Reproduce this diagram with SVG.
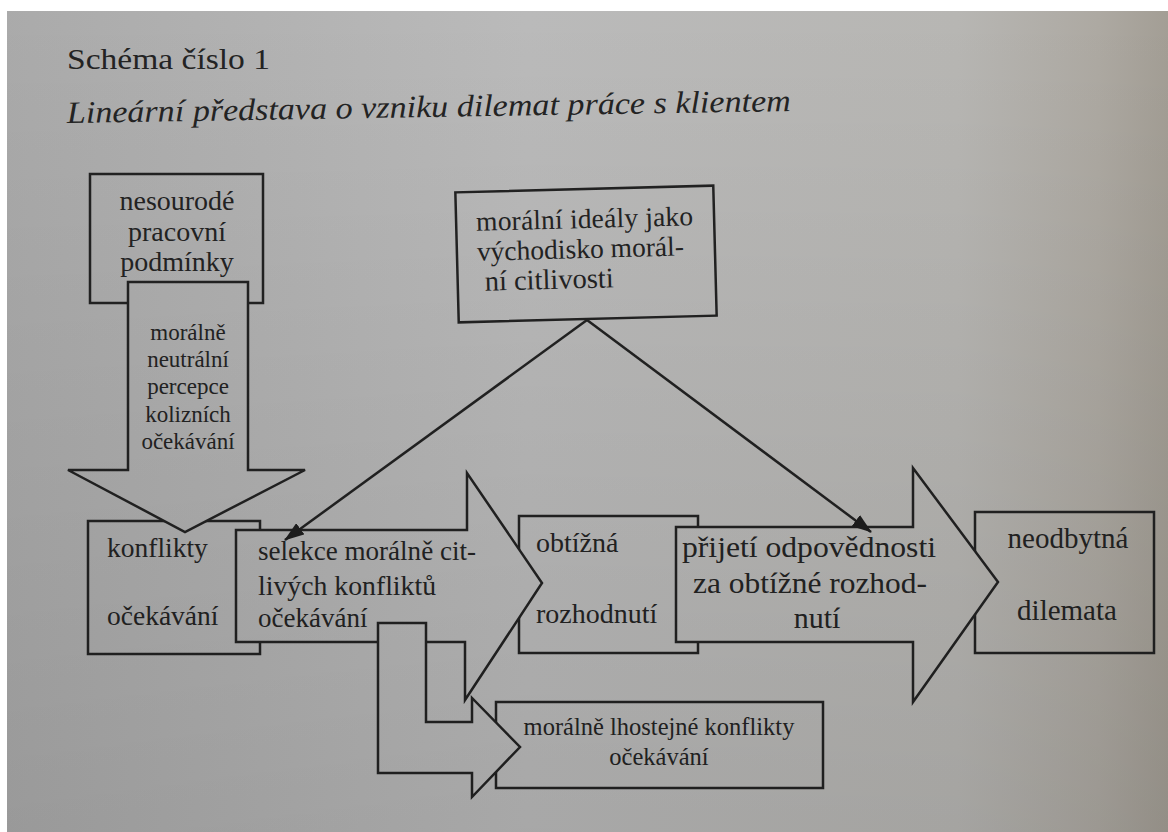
<svg xmlns="http://www.w3.org/2000/svg" width="1168" height="832" viewBox="0 0 1168 832">
<defs>
<linearGradient id="page" gradientUnits="userSpaceOnUse" x1="0" y1="0" x2="1168" y2="0">
<stop offset="0" stop-color="#aaaaaa"/>
<stop offset="0.45" stop-color="#bababa"/>
<stop offset="0.82" stop-color="#b7b6b3"/>
<stop offset="0.94" stop-color="#ada9a2"/>
<stop offset="1" stop-color="#a39e95"/>
</linearGradient>
<linearGradient id="shade" x1="0" y1="0" x2="0" y2="1">
<stop offset="0" stop-color="#000" stop-opacity="0"/>
<stop offset="1" stop-color="#000" stop-opacity="0.1"/>
</linearGradient>
<marker id="ah" markerUnits="userSpaceOnUse" markerWidth="20" markerHeight="14" viewBox="0 0 20 14" refX="19" refY="7" orient="auto">
<path d="M0,0 L20,7 L0,14 z" fill="#1e1e1e"/>
</marker>
<style>
.s{fill:url(#page);stroke:#222;stroke-width:2.5;stroke-linejoin:miter}
.t{font-family:"Liberation Serif","Times New Roman",serif;fill:#232323}
.c{text-anchor:middle}
.ln{fill:none;stroke:#222;stroke-width:2.5}
</style>
</defs>
<rect x="0" y="0" width="1168" height="832" fill="#ffffff"/>
<rect x="7" y="11" width="1161" height="821" fill="url(#page)"/>

<g id="title">
<text class="t" x="67" y="69" font-size="29" textLength="203" lengthAdjust="spacingAndGlyphs">Schéma číslo 1</text>
<text class="t" x="67" y="123" font-size="31" font-style="italic" textLength="724" lengthAdjust="spacingAndGlyphs" transform="rotate(-0.95 67 123)">Lineární představa o vzniku dilemat práce s klientem</text>
</g>

<g id="node-podminky">
<rect class="s" x="90" y="174" width="173" height="129"/>
<text class="t c" x="177" y="210" font-size="28">nesourodé</text>
<text class="t c" x="177" y="241" font-size="28">pracovní</text>
<text class="t c" x="177" y="271" font-size="28">podmínky</text>
</g>

<g id="node-konflikty">
<rect class="s" x="88" y="521" width="172" height="133"/>
<text class="t" x="107" y="557" font-size="27.5">konflikty</text>
<text class="t" x="107" y="625" font-size="27.5">očekávání</text>
</g>

<g id="arrow-percepce">
<polygon class="s" points="128,282 248,282 248,470 305,470 185,532 68,470 128,470"/>
<text class="t c" x="188" y="340" font-size="23">morálně</text>
<text class="t c" x="188" y="367" font-size="23">neutrální</text>
<text class="t c" x="188" y="394" font-size="23">percepce</text>
<text class="t c" x="188" y="422" font-size="23">kolizních</text>
<text class="t c" x="188" y="449" font-size="23">očekávání</text>
</g>

<g id="node-obtizna">
<rect class="s" x="519" y="516" width="179" height="137"/>
<text class="t" x="536" y="552" font-size="28">obtížná</text>
<text class="t" x="536" y="623" font-size="28">rozhodnutí</text>
</g>

<g id="node-lhostejne">
<rect class="s" x="496" y="702" width="327" height="86"/>
<text class="t c" x="659" y="735" font-size="24.5">morálně lhostejné konflikty</text>
<text class="t c" x="659" y="765" font-size="24.5">očekávání</text>
</g>

<g id="arrow-selekce">
<polygon class="s" points="236,530 467,530 467,473 542,583 465,700 465,642 236,642"/>
<text class="t" x="258" y="560" font-size="27" textLength="218" lengthAdjust="spacingAndGlyphs">selekce morálně cit-</text>
<text class="t" x="258" y="595" font-size="27" textLength="178" lengthAdjust="spacingAndGlyphs">livých konfliktů</text>
<text class="t" x="258" y="627" font-size="27">očekávání</text>
</g>

<g id="arrow-lhostejne">
<polygon class="s" points="378,623 426,623 426,722 472,722 472,698 520,747 472,797 472,773 378,773"/>
</g>

<g id="node-neodbytna">
<rect class="s" x="975" y="512" width="179" height="141"/>
<text class="t c" x="1068" y="548" font-size="29">neodbytná</text>
<text class="t c" x="1067" y="620" font-size="29">dilemata</text>
</g>

<g id="arrow-prijeti">
<polygon class="s" points="676,527 913,527 913,468 998,582 913,702 913,642 676,642"/>
<text class="t c" x="809" y="557" font-size="30" textLength="254" lengthAdjust="spacingAndGlyphs">přijetí odpovědnosti</text>
<text class="t c" x="810" y="593" font-size="30" textLength="234" lengthAdjust="spacingAndGlyphs">za obtížné rozhod-</text>
<text class="t c" x="817" y="628" font-size="30">nutí</text>
</g>

<g id="node-idealy" transform="rotate(-1.5 586 254)">
<rect class="s" x="457" y="189" width="258" height="130"/>
<text class="t" x="477" y="228" font-size="27.5" textLength="217" lengthAdjust="spacing">morální ideály jako</text>
<text class="t" x="477" y="258" font-size="27.5" textLength="207" lengthAdjust="spacing">východisko morál-</text>
<text class="t" x="484" y="288" font-size="28.5">ní citlivosti</text>
</g>

<g id="connectors">
<line class="ln" x1="587" y1="320" x2="285" y2="540" marker-end="url(#ah)"/>
<line class="ln" x1="587" y1="320" x2="871" y2="532" marker-end="url(#ah)"/>
</g>

<rect x="7" y="11" width="1161" height="821" fill="url(#shade)"/>
</svg>
